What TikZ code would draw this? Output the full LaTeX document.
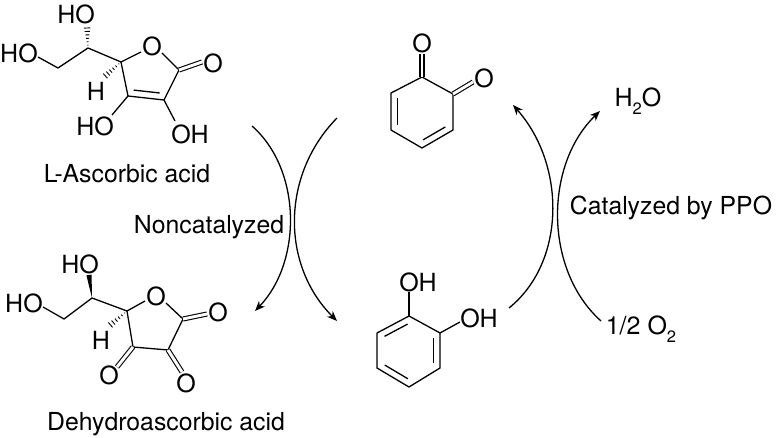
\documentclass[tikz,border=0pt]{standalone}
\usepackage{fontspec}
\setmainfont{TeX Gyre Heros}
\usetikzlibrary{arrows.meta,calc}
\newcommand{\subtwo}{\raisebox{-0.3em}{\fontsize{16.5}{16.5}\selectfont 2}}
% hashed bond, narrow end first
\newcommand{\hashbond}[2]{%
  \foreach \t in {0.12,0.27,0.42,0.57,0.72,0.87,1.0}
    \draw[hashline] ($(#1)!\t!(#2)!\t*3.6pt!90:(#2)$) -- ($(#1)!\t!(#2)!\t*3.6pt!-90:(#2)$);}
% second line of a ring double bond
\newcommand{\innerbond}[3]{%
  \draw[bond] ($(#1)!0.14!(#2)!6.5pt!#3:(#2)$) -- ($(#2)!0.14!(#1)!6.5pt!-#3:(#1)$);}
\begin{document}
\begin{tikzpicture}[x=1pt, y=-1pt,
    bond/.style={line width=1.3pt, black},
    dbl/.style={line width=1.1pt, double, double distance=2.9pt},
    hashline/.style={line width=0.9pt},
    atom/.style={inner sep=0pt, font=\fontsize{25}{25}\selectfont},
    caption/.style={inner sep=0pt, font=\fontsize{24.8}{25}\selectfont},
    reaction/.style={line width=1.3pt, -{Stealth[length=10pt, width=8pt, inset=3pt]}}]
  \useasboundingbox (0,0) rectangle (776,438);
  % L-ascorbic acid
  \node[atom] (aHOtop) at (76,14) {HO};
  \node[atom] (aHOleft) at (19,53) {HO};
  \node[atom] (aOring) at (152,46) {O};
  \node[atom] (aOket) at (213,63) {O};
  \node[atom] (aH) at (96,91) {H};
  \node[atom] (aHOlow) at (95,126) {HO};
  \node[atom] (aOHlow) at (190,134) {OH};
  \node[caption] (aName) at (127,174) {L-Ascorbic acid};
  \coordinate (a1) at (38,57);
  \coordinate (a2) at (58,68);
  \coordinate (a3) at (88,48);
  \coordinate (a4) at (87,25);
  \coordinate (a5) at (121,62);
  \coordinate (a6) at (141,52);
  \coordinate (a7) at (162,53);
  \coordinate (a8) at (179,70);
  \coordinate (a9) at (202,62);
  \coordinate (a10) at (164,100);
  \coordinate (a11) at (128,96);
  \coordinate (a12) at (112,115);
  \coordinate (a13) at (175,121);
  \coordinate (a14) at (103,78);
  \draw[bond, line join=round] (a1) -- (a2) -- (a3) -- (a5) -- (a6);
  \draw[bond, line join=round] (a7) -- (a8) -- (a10) -- (a11) -- (a5);
  \draw[bond] (a11) -- (a12);
  \draw[bond] (a10) -- (a13);
  \draw[dbl] (a8) -- (a9);
  \innerbond{a11}{a10}{90}
  \hashbond{a3}{a4}
  \hashbond{a5}{a14}
  % dehydroascorbic acid
  \node[atom] (dHOtop) at (80,264) {HO};
  \node[atom] (dHOleft) at (24,303) {HO};
  \node[atom] (dOring) at (156,296) {O};
  \node[atom] (dOright) at (218,312) {O};
  \node[atom] (dH) at (101,340) {H};
  \node[atom] (dOleft) at (109,375) {O};
  \node[atom] (dOlow) at (186,383) {O};
  \node[caption] (dName) at (166,424) {Dehydroascorbic acid};
  \coordinate (d1) at (43,307);
  \coordinate (d2) at (64,319);
  \coordinate (d3) at (92,298);
  \coordinate (d4) at (89,275);
  \coordinate (d5) at (127,311);
  \coordinate (d6) at (145,301);
  \coordinate (d7) at (166,303);
  \coordinate (d8) at (183,319);
  \coordinate (d9) at (207,314);
  \coordinate (d10) at (168,350);
  \coordinate (d11) at (133,347);
  \coordinate (d12) at (117,367);
  \coordinate (d13) at (182,372);
  \coordinate (d14) at (108,327);
  \draw[bond, line join=round] (d1) -- (d2) -- (d3) -- (d5) -- (d6);
  \draw[bond, line join=round] (d7) -- (d8) -- (d10) -- (d11) -- (d5);
  \draw[dbl] (d8) -- (d9);
  \draw[dbl] (d11) -- (d12);
  \draw[dbl] (d10) -- (d13);
  \fill ($(d4)!2.6pt!90:(d3)$) -- ($(d4)!2.6pt!-90:(d3)$) -- (d3) -- cycle;
  \hashbond{d5}{d14}
  % quinone
  \node[atom] (qOtop) at (422,43) {O};
  \node[atom] (qOright) at (484,78) {O};
  \coordinate (q1) at (422,77);
  \coordinate (q2) at (453,94);
  \coordinate (q3) at (453,130);
  \coordinate (q4) at (422,148);
  \coordinate (q5) at (391,130);
  \coordinate (q6) at (391,93);
  \coordinate (q7) at (422,54);
  \coordinate (q8) at (473,82);
  \draw[bond, line join=round] (q1) -- (q2) -- (q3) -- (q4) -- (q5) -- (q6) -- cycle;
  \draw[dbl] (q1) -- (q7);
  \draw[dbl] (q2) -- (q8);
  \innerbond{q5}{q6}{-90}
  \innerbond{q4}{q3}{90}
  % catechol
  \node[atom] (cOHtop) at (418,282) {OH};
  \node[atom] (cOHright) at (479,318) {OH};
  \coordinate (c1) at (409,316);
  \coordinate (c2) at (440,333);
  \coordinate (c3) at (440,368);
  \coordinate (c4) at (409,387);
  \coordinate (c5) at (377,368);
  \coordinate (c6) at (377,333);
  \coordinate (c7) at (409,292);
  \coordinate (c8) at (460,322);
  \draw[bond, line join=round] (c1) -- (c2) -- (c3) -- (c4) -- (c5) -- (c6) -- cycle;
  \draw[bond] (c1) -- (c7);
  \draw[bond] (c2) -- (c8);
  \innerbond{c6}{c1}{-90}
  \innerbond{c2}{c3}{-90}
  \innerbond{c4}{c5}{-90}
  % reaction labels
  \node[caption] (noncat) at (209,227) {Noncatalyzed};
  \node[caption] (cat) at (671,208) {Catalyzed by PPO};
  \node[atom] (water) at (638,101) {H\subtwo O};
  \node[atom] (oxygen) at (641,329) {1/2 O\subtwo};
  % reaction arrows
  \coordinate (r1) at (252,126);
  \coordinate (r2) at (255,311);
  \coordinate (r3) at (337,118);
  \coordinate (r4) at (337,321);
  \coordinate (r5) at (509,308);
  \coordinate (r6) at (513,105);
  \coordinate (r7) at (601,321);
  \coordinate (r8) at (600,111);
  \draw[reaction] (r1) .. controls (302,170) and (302,262) .. (r2);
  \draw[reaction] (r3) .. controls (281,175) and (281,265) .. (r4);
  \draw[reaction] (r5) .. controls (566,262) and (566,165) .. (r6);
  \draw[reaction] (r7) .. controls (544,270) and (544,165) .. (r8);
\end{tikzpicture}
\end{document}
